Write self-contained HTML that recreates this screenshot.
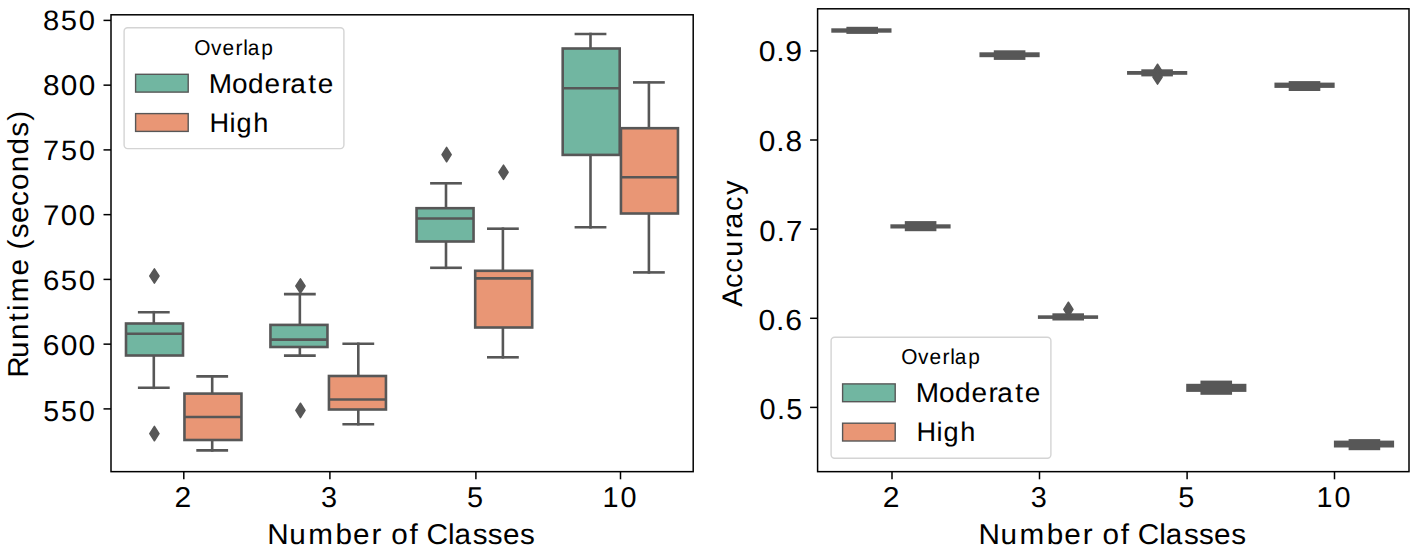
<!DOCTYPE html>
<html><head><meta charset="utf-8"><style>
html,body{margin:0;padding:0;background:#fff;}
svg{display:block;}
text{font-family:"Liberation Sans",sans-serif;font-kerning:none;text-rendering:geometricPrecision;}
</style></head><body>
<svg width="1417" height="550" viewBox="0 0 1417 550">
<rect width="1417" height="550" fill="#fff"/>
<g stroke="#575757" stroke-width="2.6" stroke-linecap="square">
<line x1="153.80" y1="312.20" x2="153.80" y2="323.50"/>
<line x1="153.80" y1="355.50" x2="153.80" y2="387.80"/>
<line x1="139.20" y1="312.20" x2="168.40" y2="312.20"/>
<line x1="139.20" y1="387.80" x2="168.40" y2="387.80"/>
<rect x="126.00" y="323.50" width="57.00" height="32.00" fill="#71b6a1"/>
<line x1="126.00" y1="333.70" x2="183.00" y2="333.70" stroke-linecap="butt"/>
<path d="M154.40,268.80 L159.00,276.00 L154.40,283.20 L149.80,276.00 Z" fill="#575757" stroke-width="1.5" stroke-linejoin="round"/>
<path d="M154.40,426.40 L159.00,433.60 L154.40,440.80 L149.80,433.60 Z" fill="#575757" stroke-width="1.5" stroke-linejoin="round"/>
<line x1="212.20" y1="376.40" x2="212.20" y2="393.60"/>
<line x1="212.20" y1="440.00" x2="212.20" y2="450.40"/>
<line x1="197.60" y1="376.40" x2="226.80" y2="376.40"/>
<line x1="197.60" y1="450.40" x2="226.80" y2="450.40"/>
<rect x="184.45" y="393.60" width="57.00" height="46.40" fill="#e99675"/>
<line x1="184.45" y1="417.00" x2="241.45" y2="417.00" stroke-linecap="butt"/>
<line x1="299.85" y1="294.10" x2="299.85" y2="324.90"/>
<line x1="299.85" y1="347.00" x2="299.85" y2="355.60"/>
<line x1="285.25" y1="294.10" x2="314.45" y2="294.10"/>
<line x1="285.25" y1="355.60" x2="314.45" y2="355.60"/>
<rect x="270.45" y="324.90" width="57.00" height="22.10" fill="#71b6a1"/>
<line x1="270.45" y1="339.60" x2="327.45" y2="339.60" stroke-linecap="butt"/>
<path d="M300.45,278.80 L305.05,286.00 L300.45,293.20 L295.85,286.00 Z" fill="#575757" stroke-width="1.5" stroke-linejoin="round"/>
<path d="M300.45,403.20 L305.05,410.40 L300.45,417.60 L295.85,410.40 Z" fill="#575757" stroke-width="1.5" stroke-linejoin="round"/>
<line x1="358.30" y1="343.80" x2="358.30" y2="376.00"/>
<line x1="358.30" y1="409.50" x2="358.30" y2="424.20"/>
<line x1="343.70" y1="343.80" x2="372.90" y2="343.80"/>
<line x1="343.70" y1="424.20" x2="372.90" y2="424.20"/>
<rect x="328.95" y="376.00" width="57.00" height="33.50" fill="#e99675"/>
<line x1="328.95" y1="399.50" x2="385.95" y2="399.50" stroke-linecap="butt"/>
<line x1="446.00" y1="183.30" x2="446.00" y2="208.20"/>
<line x1="446.00" y1="241.50" x2="446.00" y2="267.80"/>
<line x1="431.40" y1="183.30" x2="460.60" y2="183.30"/>
<line x1="431.40" y1="267.80" x2="460.60" y2="267.80"/>
<rect x="416.55" y="208.20" width="57.00" height="33.30" fill="#71b6a1"/>
<line x1="416.55" y1="218.50" x2="473.55" y2="218.50" stroke-linecap="butt"/>
<path d="M446.60,147.40 L451.20,154.60 L446.60,161.80 L442.00,154.60 Z" fill="#575757" stroke-width="1.5" stroke-linejoin="round"/>
<line x1="502.90" y1="228.70" x2="502.90" y2="270.80"/>
<line x1="502.90" y1="327.50" x2="502.90" y2="357.30"/>
<line x1="488.30" y1="228.70" x2="517.50" y2="228.70"/>
<line x1="488.30" y1="357.30" x2="517.50" y2="357.30"/>
<rect x="475.20" y="270.80" width="57.00" height="56.70" fill="#e99675"/>
<line x1="475.20" y1="278.40" x2="532.20" y2="278.40" stroke-linecap="butt"/>
<path d="M503.50,165.05 L508.10,172.25 L503.50,179.45 L498.90,172.25 Z" fill="#575757" stroke-width="1.5" stroke-linejoin="round"/>
<line x1="590.50" y1="34.00" x2="590.50" y2="48.50"/>
<line x1="590.50" y1="154.90" x2="590.50" y2="227.30"/>
<line x1="575.90" y1="34.00" x2="605.10" y2="34.00"/>
<line x1="575.90" y1="227.30" x2="605.10" y2="227.30"/>
<rect x="562.70" y="48.50" width="57.00" height="106.40" fill="#71b6a1"/>
<line x1="562.70" y1="88.20" x2="619.70" y2="88.20" stroke-linecap="butt"/>
<line x1="648.90" y1="82.40" x2="648.90" y2="128.20"/>
<line x1="648.90" y1="213.50" x2="648.90" y2="272.40"/>
<line x1="634.30" y1="82.40" x2="663.50" y2="82.40"/>
<line x1="634.30" y1="272.40" x2="663.50" y2="272.40"/>
<rect x="620.95" y="128.20" width="57.00" height="85.30" fill="#e99675"/>
<line x1="620.95" y1="177.30" x2="677.95" y2="177.30" stroke-linecap="butt"/>
</g>
<g fill="#575757" stroke="#575757">
<rect x="831.30" y="28.30" width="60.20" height="4.40" stroke="none"/>
<rect x="846.40" y="26.80" width="31.60" height="7.10" stroke="none"/>
<rect x="890.40" y="224.30" width="60.20" height="4.20" stroke="none"/>
<rect x="904.80" y="221.10" width="31.60" height="10.10" stroke="none"/>
<rect x="979.45" y="52.30" width="60.20" height="4.90" stroke="none"/>
<rect x="993.80" y="50.30" width="31.60" height="9.60" stroke="none"/>
<rect x="1037.90" y="315.30" width="60.20" height="3.60" stroke="none"/>
<rect x="1052.40" y="313.30" width="31.60" height="7.20" stroke="none"/>
<path d="M1068.40,302.20 L1073.00,309.40 L1068.40,316.60 L1063.80,309.40 Z" stroke-width="1.5" stroke-linejoin="round"/>
<rect x="1127.05" y="71.00" width="60.20" height="3.80" stroke="none"/>
<rect x="1141.30" y="69.30" width="31.60" height="7.10" stroke="none"/>
<path d="M1157.55,64.20 L1162.15,71.40 L1157.55,78.60 L1152.95,71.40 Z" stroke-width="1.5" stroke-linejoin="round"/>
<path d="M1157.55,69.80 L1162.15,77.00 L1157.55,84.20 L1152.95,77.00 Z" stroke-width="1.5" stroke-linejoin="round"/>
<rect x="1186.20" y="383.80" width="60.20" height="8.10" stroke="none"/>
<rect x="1200.45" y="380.60" width="31.60" height="14.20" stroke="none"/>
<rect x="1274.45" y="82.60" width="60.20" height="5.30" stroke="none"/>
<rect x="1288.70" y="81.10" width="31.60" height="9.90" stroke="none"/>
<rect x="1333.90" y="440.60" width="60.20" height="6.90" stroke="none"/>
<rect x="1348.60" y="439.10" width="31.60" height="11.10" stroke="none"/>
</g>
<g stroke="#000" stroke-width="1.5" fill="none">
<rect x="111.0" y="14.8" width="582.2" height="456.84999999999997" stroke-linejoin="miter"/>
<rect x="817.6" y="8.8" width="591.4" height="462.84999999999997" stroke-linejoin="miter"/>
<line x1="103.5" y1="20.4" x2="111.0" y2="20.4"/>
<line x1="103.5" y1="85.15" x2="111.0" y2="85.15"/>
<line x1="103.5" y1="149.9" x2="111.0" y2="149.9"/>
<line x1="103.5" y1="214.65" x2="111.0" y2="214.65"/>
<line x1="103.5" y1="279.4" x2="111.0" y2="279.4"/>
<line x1="103.5" y1="344.15" x2="111.0" y2="344.15"/>
<line x1="103.5" y1="408.9" x2="111.0" y2="408.9"/>
<line x1="810.1" y1="50.9" x2="817.6" y2="50.9"/>
<line x1="810.1" y1="140.0" x2="817.6" y2="140.0"/>
<line x1="810.1" y1="229.15" x2="817.6" y2="229.15"/>
<line x1="810.1" y1="318.3" x2="817.6" y2="318.3"/>
<line x1="810.1" y1="407.4" x2="817.6" y2="407.4"/>
<line x1="183.8" y1="471.65" x2="183.8" y2="479.3"/>
<line x1="329.9" y1="471.65" x2="329.9" y2="479.3"/>
<line x1="475.9" y1="471.65" x2="475.9" y2="479.3"/>
<line x1="620.5" y1="471.65" x2="620.5" y2="479.3"/>
<line x1="892.0" y1="471.65" x2="892.0" y2="479.3"/>
<line x1="1039.5" y1="471.65" x2="1039.5" y2="479.3"/>
<line x1="1187.1" y1="471.65" x2="1187.1" y2="479.3"/>
<line x1="1334.5" y1="471.65" x2="1334.5" y2="479.3"/>
</g>
<rect x="124.1" y="27.7" width="219.8" height="120.9" rx="3.5" ry="3.5" fill="#fff" fill-opacity="0.8" stroke="#d4d4d4" stroke-width="1.4"/>
<rect x="135.6" y="74.3" width="52.6" height="17.8" fill="#71b6a1" stroke="#575757" stroke-width="1.4"/>
<rect x="135.6" y="113.6" width="52.6" height="17.8" fill="#e99675" stroke="#575757" stroke-width="1.4"/>
<rect x="831.1" y="337.3" width="219.8" height="120.9" rx="3.5" ry="3.5" fill="#fff" fill-opacity="0.8" stroke="#d4d4d4" stroke-width="1.4"/>
<rect x="842.6" y="383.90000000000003" width="52.6" height="17.8" fill="#71b6a1" stroke="#575757" stroke-width="1.4"/>
<rect x="842.6" y="423.20000000000005" width="52.6" height="17.8" fill="#e99675" stroke="#575757" stroke-width="1.4"/>
<g font-family="Liberation Sans, sans-serif" style="font-kerning:none">
<text transform="translate(44.14,30.32) scale(1.0382,1)" x="-1.05 16.07 33.39" y="0" font-size="28.10" fill="#000" xml:space="preserve">850</text>
<text transform="translate(44.14,95.12) scale(1.0420,1)" x="-1.19 15.97 33.12" y="0" font-size="28.53" fill="#000" xml:space="preserve">800</text>
<text transform="translate(44.54,160.32) scale(1.0268,1)" x="-1.41 15.95 33.46" y="0" font-size="28.10" fill="#000" xml:space="preserve">750</text>
<text transform="translate(44.54,225.12) scale(1.0310,1)" x="-1.56 15.84 33.18" y="0" font-size="28.53" fill="#000" xml:space="preserve">700</text>
<text transform="translate(44.19,290.32) scale(1.0463,1)" x="-1.15 15.83 33.02" y="0" font-size="28.10" fill="#000" xml:space="preserve">650</text>
<text transform="translate(44.19,355.02) scale(1.0397,1)" x="-1.31 15.89 33.08" y="0" font-size="28.82" fill="#000" xml:space="preserve">600</text>
<text transform="translate(44.40,421.12) scale(0.9846,1)" x="-1.29 16.86 35.13" y="0" font-size="28.96" fill="#000" xml:space="preserve">550</text>
<text transform="translate(759.94,61.32) scale(1.0456,1)" x="-1.24 15.58 24.32" y="0" font-size="28.82" fill="#000" xml:space="preserve">0.9</text>
<text transform="translate(759.89,150.82) scale(1.0303,1)" x="-1.18 15.85 24.84" y="0" font-size="28.96" fill="#000" xml:space="preserve">0.8</text>
<text transform="translate(760.37,241.32) scale(1.0056,1)" x="-1.09 16.30 25.51" y="0" font-size="29.24" fill="#000" xml:space="preserve">0.7</text>
<text transform="translate(759.73,330.22) scale(1.0413,1)" x="-1.25 15.64 24.49" y="0" font-size="28.96" fill="#000" xml:space="preserve">0.6</text>
<text transform="translate(760.42,419.22) scale(0.9993,1)" x="-0.97 16.47 25.75" y="0" font-size="28.96" fill="#000" xml:space="preserve">0.5</text>
<text transform="translate(176.05,507.00) scale(1.0499,1)" x="-1.44" y="0" font-size="28.64" fill="#000" xml:space="preserve">2</text>
<text transform="translate(322.15,507.00) scale(1.0088,1)" x="-1.09" y="0" font-size="28.64" fill="#000" xml:space="preserve">3</text>
<text transform="translate(468.15,507.00) scale(1.0088,1)" x="-1.15" y="0" font-size="28.64" fill="#000" xml:space="preserve">5</text>
<text transform="translate(604.90,507.00) scale(1.0054,1)" x="-2.33 15.47" y="0" font-size="28.64" fill="#000" xml:space="preserve">10</text>
<text transform="translate(884.25,507.00) scale(1.0499,1)" x="-1.44" y="0" font-size="28.64" fill="#000" xml:space="preserve">2</text>
<text transform="translate(1031.75,507.00) scale(1.0088,1)" x="-1.09" y="0" font-size="28.64" fill="#000" xml:space="preserve">3</text>
<text transform="translate(1179.35,507.00) scale(1.0088,1)" x="-1.15" y="0" font-size="28.64" fill="#000" xml:space="preserve">5</text>
<text transform="translate(1318.90,507.00) scale(1.0054,1)" x="-2.33 15.47" y="0" font-size="28.64" fill="#000" xml:space="preserve">10</text>
<text transform="translate(270.10,543.50) scale(1.0362,1)" x="-2.76 18.56 36.84 63.03 80.10 97.88 102.88 116.97 134.55 139.55 150.86 171.60 178.03 195.65 209.97 224.66 241.22" y="0" font-size="28.63" fill="#000" xml:space="preserve">Number of Classes</text>
<text transform="translate(981.40,543.50) scale(1.0358,1)" x="-2.76 18.56 36.84 63.03 80.10 97.88 102.88 116.97 134.55 139.55 150.86 171.60 178.03 195.65 209.97 224.66 241.22" y="0" font-size="28.63" fill="#000" xml:space="preserve">Number of Classes</text>
<text transform="translate(28.00,374.50) rotate(-90) scale(1.0310,1)" x="-3.07 15.90 33.50 51.52 61.65 70.18 96.07 101.07 121.13 132.21 146.94 163.43 178.98 196.21 213.47 230.58 246.09" y="0" font-size="28.78" xml:space="preserve">Runtime (seconds)</text>
<text transform="translate(741.80,306.60) rotate(-90) scale(1.0113,1)" x="-0.23 18.36 33.54 49.34 67.53 76.93 94.47 110.54" y="0" font-size="28.34" xml:space="preserve">Accuracy</text>
<text transform="translate(195.70,54.50) scale(0.9697,1)" x="-1.41 15.80 27.68 41.03 48.93 53.74 67.51" y="0" font-size="21.53" fill="#000" xml:space="preserve">Overlap</text>
<text transform="translate(211.70,92.60) scale(1.0234,1)" x="-2.86 19.76 35.53 51.70 68.29 76.87 94.41 103.60" y="0" font-size="27.33" fill="#000" xml:space="preserve">Moderate</text>
<text transform="translate(212.00,131.80) scale(1.0033,1)" x="-2.61 17.44 24.52 41.04" y="0" font-size="27.04" fill="#000" xml:space="preserve">High</text>
<text transform="translate(902.70,364.10) scale(0.9697,1)" x="-1.41 15.80 27.68 41.03 48.93 53.74 67.51" y="0" font-size="21.53" fill="#000" xml:space="preserve">Overlap</text>
<text transform="translate(918.70,402.20) scale(1.0234,1)" x="-2.86 19.76 35.53 51.70 68.29 76.87 94.41 103.60" y="0" font-size="27.33" fill="#000" xml:space="preserve">Moderate</text>
<text transform="translate(919.00,441.40) scale(1.0033,1)" x="-2.61 17.44 24.52 41.04" y="0" font-size="27.04" fill="#000" xml:space="preserve">High</text>
</g>
</svg>
</body></html>
